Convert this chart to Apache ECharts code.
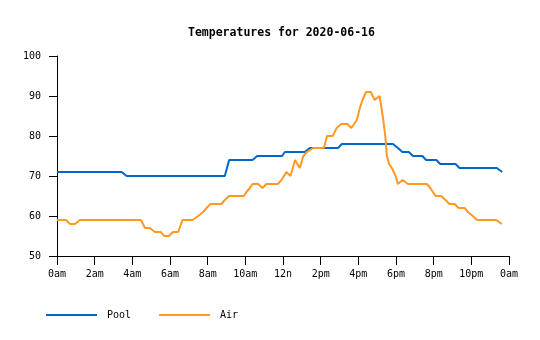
<!DOCTYPE html>
<html>
<head>
<meta charset="utf-8">
<script src="https://cdn.jsdelivr.net/npm/echarts@6/dist/echarts.min.js"></script>
<style>html,body{margin:0;padding:0;background:#fff}#c{width:540px;height:340px}</style>
</head>
<body>
<div id="c"></div>
<script>
var titleText = 'Temperatures for 2020-06-16';
var seriesNames = ['Pool', 'Air'];
var tickLabels = ['0am','2am','4am','6am','8am','10am','12n','2pm','4pm','6pm','8pm','10pm','0am'];

var poolHours = [0, 3.43, 3.7, 8.91, 9.14, 10.38, 10.63, 11.95, 12.1, 13.15, 13.42, 14.92, 15.13, 17.84, 18.1, 18.34, 18.68, 18.9, 19.4, 19.6, 20.14, 20.35, 21.16, 21.37, 23.35, 23.64];
var poolTemps = [71, 71, 70, 70, 74, 74, 75, 75, 76, 76, 77, 77, 78, 78, 77, 76, 76, 75, 75, 74, 74, 73, 73, 72, 72, 71];

var airHours = [0, 0.48, 0.69, 0.95, 1.22, 4.46, 4.67, 4.93, 5.2, 5.52, 5.68, 5.94, 6.15, 6.44, 6.66, 7.2, 7.5, 7.76, 7.94, 8.15, 8.73, 8.91, 9.14, 9.92, 10.06, 10.24, 10.38, 10.68, 10.91, 11.12, 11.72, 11.92, 12.18, 12.4, 12.64, 12.89, 13.08, 13.27, 13.6, 14.17, 14.34, 14.64, 14.85, 15.1, 15.42, 15.63, 15.92, 16.08, 16.22, 16.41, 16.66, 16.87, 17.13, 17.31, 17.43, 17.52, 17.63, 17.8, 17.98, 18.1, 18.34, 18.64, 19.64, 19.82, 19.96, 20.1, 20.4, 20.63, 20.84, 21.11, 21.32, 21.64, 21.82, 22.08, 22.3, 23.32, 23.62];
var airTemps = [59, 59, 58, 58, 59, 59, 57, 57, 56, 56, 55, 55, 56, 56, 59, 59, 60, 61, 62, 63, 63, 64, 65, 65, 66, 67, 68, 68, 67, 68, 68, 69, 71, 70, 74, 72, 75, 76, 77, 77, 80, 80, 82, 83, 83, 82, 84, 87, 89, 91, 91, 89, 90, 84.5, 80, 75, 73, 71.8, 70, 68, 69, 68, 68, 67, 66, 65, 65, 64, 63, 63, 62, 62, 61, 60, 59, 59, 58];

function pairs(xs, ys) { return xs.map(function (x, i) { return [x, ys[i]]; }); }

var mono = '"DejaVu Sans Mono", "Liberation Mono", monospace';
var chart = echarts.init(document.getElementById('c'), null, { renderer: 'canvas' });
chart.setOption({
  animation: false,
  backgroundColor: '#ffffff',
  title: {
    text: titleText, left: 188, top: 27, padding: 0,
    textStyle: { fontFamily: mono, fontSize: 11.5, fontWeight: 'bold', color: '#000' }
  },
  legend: {
    left: 46, top: 310, padding: 0, icon: 'rect', itemWidth: 51, itemHeight: 2, itemGap: 28,
    data: seriesNames,
    textStyle: { fontFamily: mono, fontSize: 10, color: '#000', padding: [7, 0, 0, 5] }
  },
  grid: { left: 57, right: 31, top: 56, bottom: 84, containLabel: false },
  xAxis: {
    type: 'value', min: 0, max: 24, interval: 2,
    axisLine: { lineStyle: { color: '#000', width: 1 } },
    axisTick: { length: 9, lineStyle: { color: '#000' } },
    splitLine: { show: false },
    axisLabel: {
      margin: 13, color: '#000', fontFamily: mono, fontSize: 10,
      formatter: function (v) { return tickLabels[Math.round(v / 2)]; }
    }
  },
  yAxis: {
    type: 'value', min: 50, max: 100, interval: 10,
    axisLine: { show: true, lineStyle: { color: '#000', width: 1 } },
    axisTick: { show: true, length: 8, lineStyle: { color: '#000' } },
    splitLine: { show: false },
    axisLabel: { margin: 16, color: '#000', fontFamily: mono, fontSize: 10 }
  },
  series: [
    { name: seriesNames[0], type: 'line', data: pairs(poolHours, poolTemps), showSymbol: false, symbol: 'none',
      color: '#0066cc', lineStyle: { color: '#0066cc', width: 2 } },
    { name: seriesNames[1], type: 'line', data: pairs(airHours, airTemps), showSymbol: false, symbol: 'none',
      color: '#ff9922', lineStyle: { color: '#ff9922', width: 2 } }
  ]
});
</script>
</body>
</html>
